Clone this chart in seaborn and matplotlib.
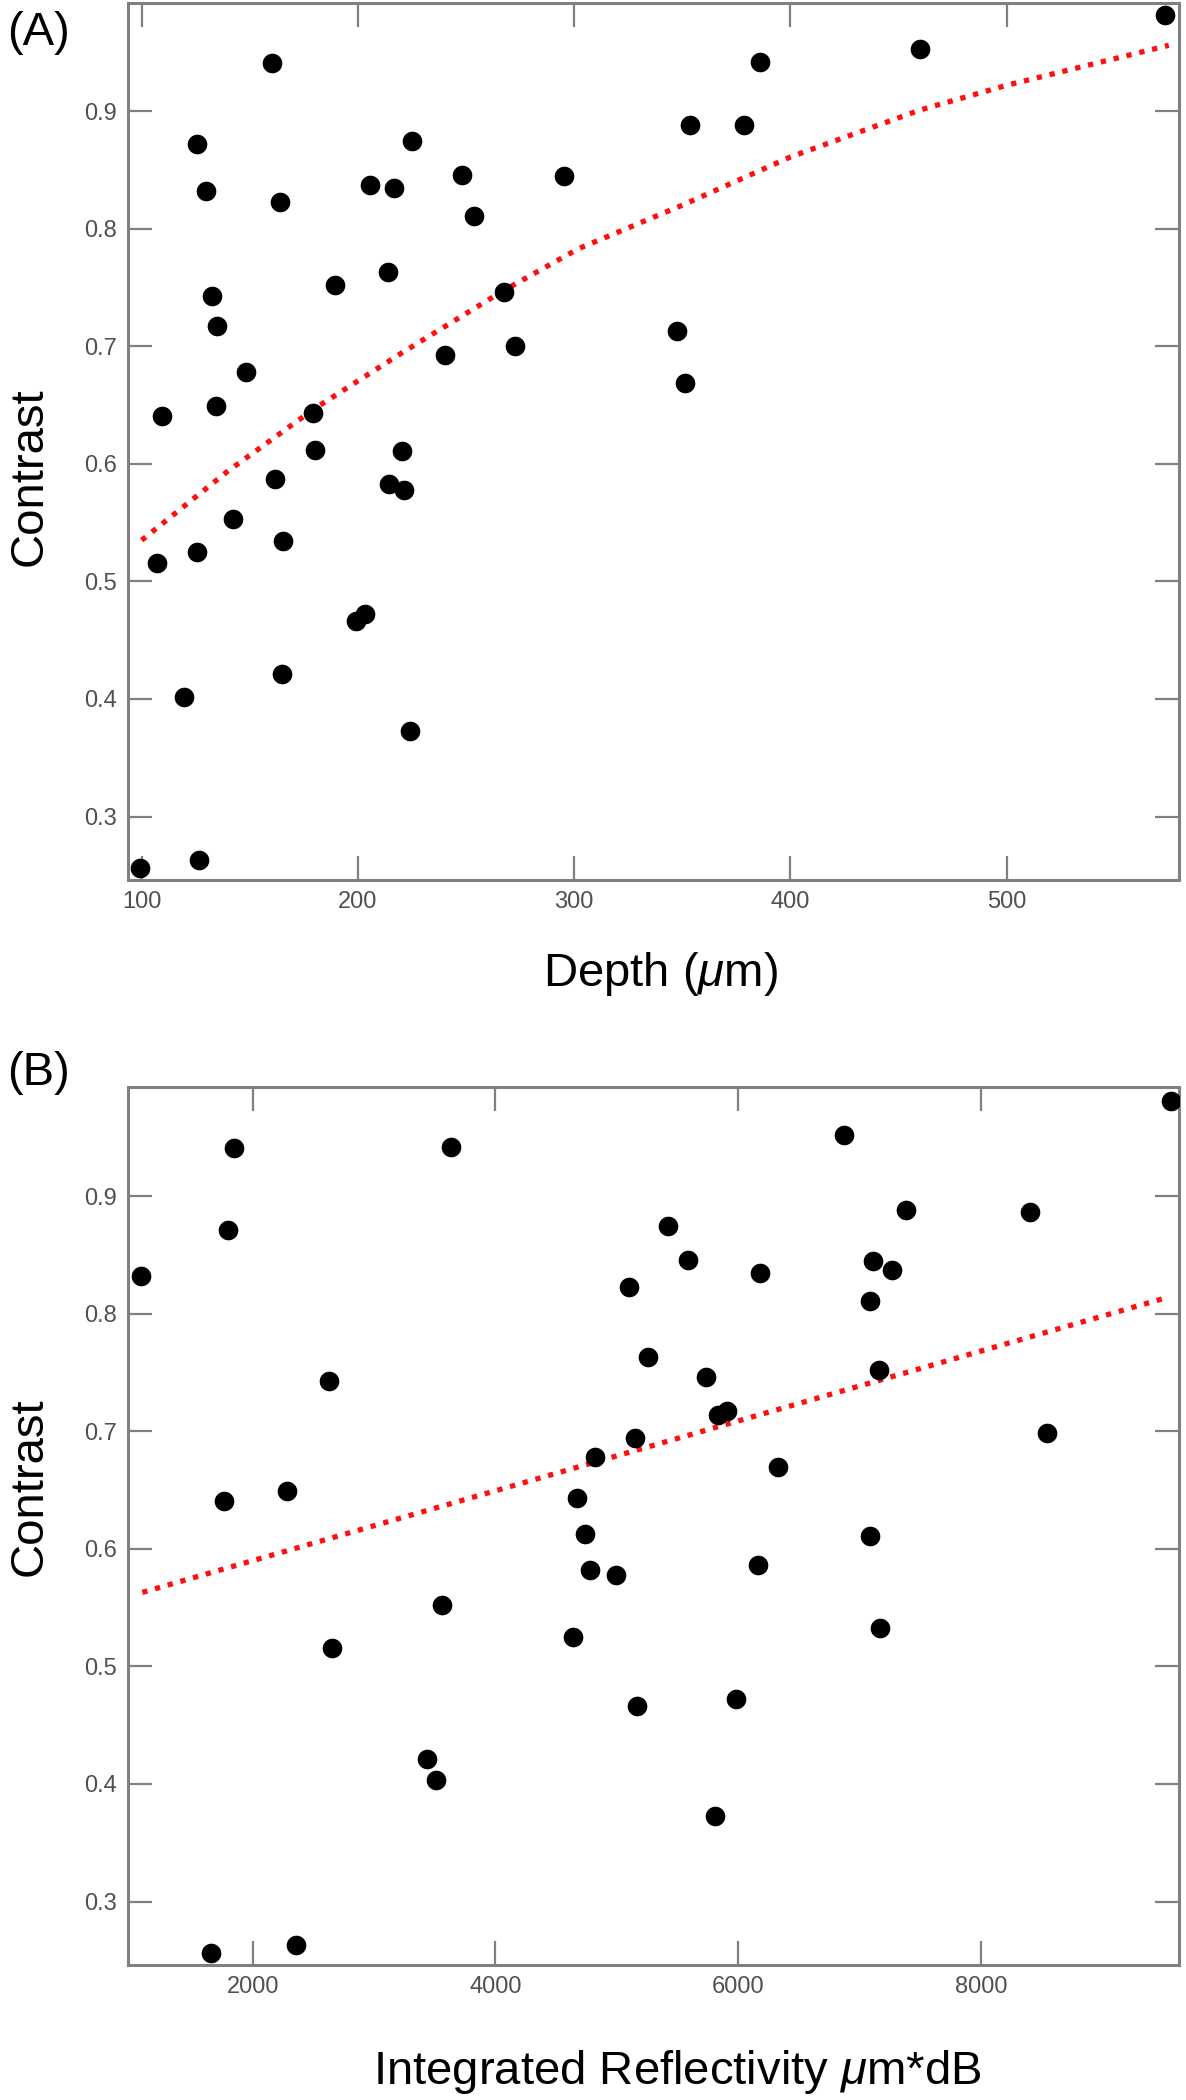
import matplotlib
matplotlib.use("Agg")
import matplotlib.pyplot as plt
import seaborn as sns
import pandas as pd

# panel A: contrast vs depth
depth = [160.2, 125.7, 129.6, 164.2, 225.1, 205.8, 216.5, 248.1, 295.4, 253.5,
         213.8, 189.6, 132.7, 134.9, 267.4, 240.2, 272.7, 148.3, 109.6, 134.2,
         179.3, 180.2, 220.2, 161.8, 214.2, 221.4, 142.1, 386.1, 460.0, 573.2,
         353.6, 378.7, 347.6, 351.4, 107.1, 125.5, 165.5, 199.1, 203.2, 119.6,
         164.8, 223.9, 99.3, 126.7]
contrast_a = [0.941, 0.872, 0.832, 0.823, 0.875, 0.837, 0.835, 0.846, 0.845, 0.811,
              0.763, 0.752, 0.743, 0.717, 0.746, 0.693, 0.700, 0.678, 0.641, 0.649,
              0.643, 0.612, 0.611, 0.587, 0.583, 0.578, 0.553, 0.942, 0.953, 0.982,
              0.888, 0.888, 0.713, 0.669, 0.516, 0.525, 0.534, 0.466, 0.472, 0.402,
              0.421, 0.373, 0.256, 0.263]
fit_a_x = [100, 140, 180, 220, 267, 302, 350, 400, 460, 500, 575]
fit_a_y = [0.535, 0.594, 0.647, 0.694, 0.747, 0.783, 0.820, 0.861, 0.901, 0.922, 0.956]

# panel B: contrast vs integrated reflectivity
reflect = [1843, 3636, 1799, 1078, 2630, 1762, 2279, 4674, 4737, 4816,
           9568, 6874, 7386, 8406, 5424, 5584, 5104, 6182, 7107, 7264,
           7085, 5258, 5738, 7162, 5834, 5910, 8544, 5149, 6326, 7088,
           3558, 2652, 4636, 3433, 3514, 1658, 2354, 4781, 4992, 6163,
           7168, 5162, 5978, 5805]
contrast_b = [0.941, 0.942, 0.871, 0.832, 0.743, 0.641, 0.649, 0.643, 0.613, 0.678,
              0.981, 0.952, 0.888, 0.887, 0.875, 0.846, 0.823, 0.835, 0.845, 0.837,
              0.811, 0.763, 0.746, 0.752, 0.714, 0.717, 0.699, 0.694, 0.670, 0.611,
              0.552, 0.516, 0.525, 0.421, 0.403, 0.256, 0.263, 0.582, 0.578, 0.586,
              0.533, 0.466, 0.472, 0.373]
fit_b_x = [1091, 9536]
fit_b_y = [0.563, 0.814]

y_ticks = [0.3, 0.4, 0.5, 0.6, 0.7, 0.8, 0.9]

sns.set_style("white")
plt.rcParams['font.family'] = ['Liberation Sans', 'DejaVu Sans']
plt.rcParams['mathtext.fontset'] = 'custom'
plt.rcParams['mathtext.rm'] = 'Liberation Sans'
plt.rcParams['mathtext.it'] = 'Liberation Sans:italic'
plt.rcParams['text.color'] = 'black'
plt.rcParams['axes.labelcolor'] = 'black'

fig = plt.figure(figsize=(11.86, 21.0), dpi=100)
ax_a = fig.add_axes([128 / 1186, 1 - 880 / 2100, 1051 / 1186, 877 / 2100])
ax_b = fig.add_axes([128 / 1186, 1 - 1965 / 2100, 1051 / 1186, 878 / 2100])

df_a = pd.DataFrame({'x': depth, 'y': contrast_a})
df_b = pd.DataFrame({'x': reflect, 'y': contrast_b})
fa = pd.DataFrame({'x': fit_a_x, 'y': fit_a_y})
fb = pd.DataFrame({'x': fit_b_x, 'y': fit_b_y})

spine_col = '#808080'

def style_axis(ax, xlim, ylim, xticks):
    ax.set_xlim(*xlim)
    ax.set_ylim(*ylim)
    ax.set_xticks(xticks)
    ax.set_yticks(y_ticks)
    ax.set_yticklabels([f'{v:.1f}' for v in y_ticks])
    ax.tick_params(direction='in', length=17, width=1.6, color=spine_col,
                   labelsize=17, labelcolor='#505050', pad=8,
                   top=True, right=True, bottom=True, left=True)
    for sp in ax.spines.values():
        sp.set_color(spine_col)
        sp.set_linewidth(2.2)
        sp.set_visible(True)

for ax, df, fit in [(ax_a, df_a, fa), (ax_b, df_b, fb)]:
    sns.lineplot(data=fit, x='x', y='y', ax=ax, color='#ff1010', linewidth=3.8,
                 linestyle=(0, (1, 1.5)), sort=False, zorder=2)
    sns.scatterplot(data=df, x='x', y='y', ax=ax, color='black', s=200,
                    linewidth=0, zorder=3)

style_axis(ax_a, (93.7, 579.7), (0.246, 0.992), [100, 200, 300, 400, 500])
style_axis(ax_b, (973, 9631), (0.246, 0.993), [2000, 4000, 6000, 8000])

ax_a.set_xlabel(r'Depth ($\mu$m)', fontsize=34, va='center')
ax_a.xaxis.set_label_coords(0.507, -0.107)
ax_b.set_xlabel(r'Integrated Reflectivity $\mu$m*dB', fontsize=34, va='center')
ax_b.xaxis.set_label_coords(0.523, -0.122)
for ax, yc in [(ax_a, 0.46), (ax_b, 0.545)]:
    ax.set_ylabel('Contrast', fontsize=34, va='center')
    ax.yaxis.set_label_coords(-0.094, yc)

fig.text(0.006, 1 - 33 / 2100, '(A)', fontsize=34, ha='left', va='center')
fig.text(0.006, 1 - 1073 / 2100, '(B)', fontsize=34, ha='left', va='center')

fig.savefig('out.png', dpi=100)
